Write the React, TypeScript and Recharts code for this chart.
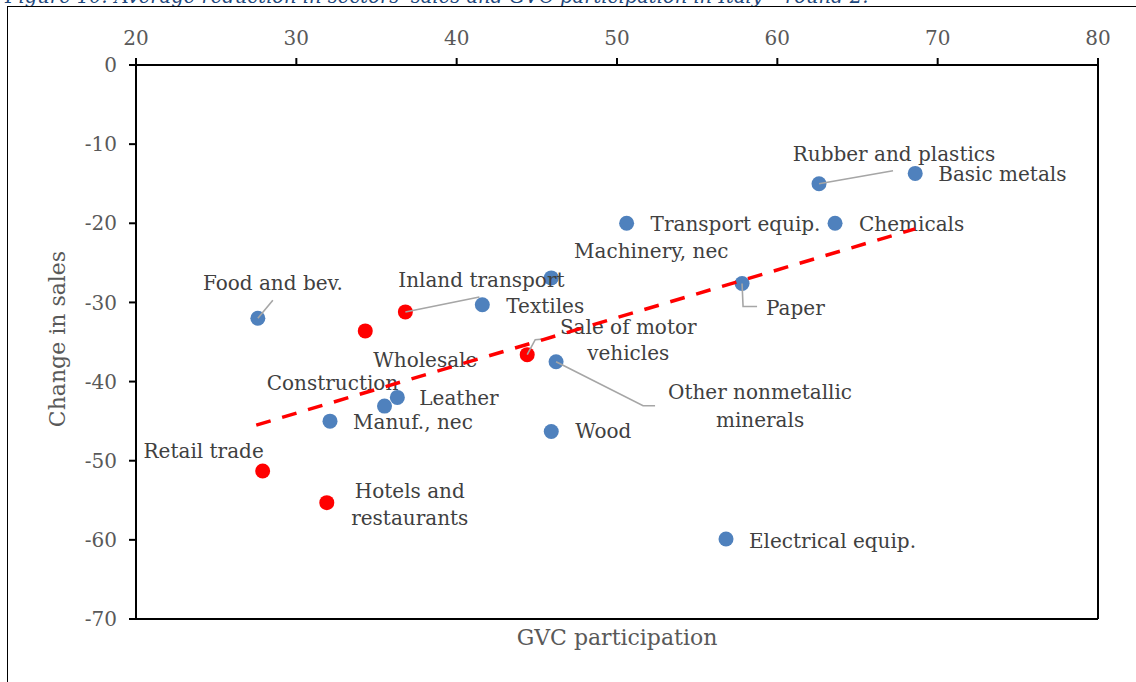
import React from 'react';
import { ScatterChart, Scatter, XAxis, YAxis, ReferenceLine } from 'recharts';

// ---------- Data ----------
const manufNames = [
  'Food and bev.', 'Textiles', 'Leather', 'Wood', 'Paper', 'Chemicals',
  'Rubber and plastics', 'Other nonmetallic minerals', 'Basic metals',
  'Machinery, nec', 'Electrical equip.', 'Transport equip.', 'Manuf., nec', 'Construction',
];
const manufGvc = [27.6, 41.6, 36.3, 45.9, 57.8, 63.6, 62.6, 46.2, 68.6, 45.9, 56.8, 50.6, 32.1, 35.5];
const manufSales = [-32.0, -30.3, -42.0, -46.3, -27.6, -20.0, -15.0, -37.5, -13.7, -26.9, -59.9, -20.0, -45.0, -43.1];

const servNames = ['Sale of motor vehicles', 'Wholesale', 'Retail trade', 'Hotels and restaurants', 'Inland transport'];
const servGvc = [44.4, 34.3, 27.9, 31.9, 36.8];
const servSales = [-36.6, -33.6, -51.3, -55.3, -31.2];

const trendGvc = [27.5, 68.6];
const trendSales = [-45.5, -20.7];

const xTicks = [20, 30, 40, 50, 60, 70, 80];
const yTicks = [0, -10, -20, -30, -40, -50, -60, -70];

const titleText = "Figure 10: Average reduction in sectors' sales and GVC participation in Italy \u2013 round 2.";
const xLabel = 'GVC participation';
const yLabel = 'Change in sales';

// ---------- Label layout (pixel offsets relative to each point) ----------
type Lay = { lines: string[]; anchor: 'start' | 'middle'; dx: number; dy: number; lh?: number; leader?: number[][] };
const labelLayout: Record<string, Lay> = {
  'Food and bev.': { lines: ['Food and bev.'], anchor: 'middle', dx: 15, dy: -35, leader: [[0, 0], [15, -18]] },
  'Wholesale': { lines: ['Wholesale'], anchor: 'middle', dx: 60, dy: 29 },
  'Inland transport': { lines: ['Inland transport'], anchor: 'middle', dx: 76, dy: -32, leader: [[0, 0], [74, -15]] },
  'Textiles': { lines: ['Textiles'], anchor: 'start', dx: 24, dy: 1 },
  'Machinery, nec': { lines: ['Machinery, nec'], anchor: 'middle', dx: 100, dy: -27 },
  'Transport equip.': { lines: ['Transport equip.'], anchor: 'start', dx: 24, dy: 1 },
  'Rubber and plastics': { lines: ['Rubber and plastics'], anchor: 'middle', dx: 75, dy: -30, leader: [[0, 0], [74, -13]] },
  'Basic metals': { lines: ['Basic metals'], anchor: 'start', dx: 23, dy: 1 },
  'Chemicals': { lines: ['Chemicals'], anchor: 'start', dx: 24, dy: 1 },
  'Paper': { lines: ['Paper'], anchor: 'start', dx: 24, dy: 25, leader: [[0, 0], [1, 23], [15, 23]] },
  'Sale of motor vehicles': { lines: ['Sale of motor', 'vehicles'], anchor: 'middle', dx: 101, dy: -28, lh: 26, leader: [[0, 0], [8, -15], [22, -16]] },
  'Other nonmetallic minerals': { lines: ['Other nonmetallic', 'minerals'], anchor: 'middle', dx: 204, dy: 30, lh: 28, leader: [[0, 0], [87, 44], [99, 44]] },
  'Construction': { lines: ['Construction'], anchor: 'middle', dx: -52, dy: -23 },
  'Leather': { lines: ['Leather'], anchor: 'start', dx: 22, dy: 1 },
  'Manuf., nec': { lines: ['Manuf., nec'], anchor: 'start', dx: 23, dy: 1 },
  'Wood': { lines: ['Wood'], anchor: 'start', dx: 24, dy: 0 },
  'Retail trade': { lines: ['Retail trade'], anchor: 'middle', dx: -59, dy: -20 },
  'Hotels and restaurants': { lines: ['Hotels and', 'restaurants'], anchor: 'middle', dx: 83, dy: -12, lh: 27 },
  'Electrical equip.': { lines: ['Electrical equip.'], anchor: 'start', dx: 23, dy: 2 },
};

const FONT = '"DejaVu Serif", Georgia, serif';
const BLUE = '#4F81BD';
const RED = '#FF0000';

const manufData = manufNames.map((n, i) => ({ name: n, x: manufGvc[i], y: manufSales[i] }));
const servData = servNames.map((n, i) => ({ name: n, x: servGvc[i], y: servSales[i] }));
const allData = [...manufData, ...servData];
const trendData = trendGvc.map((x, i) => ({ x, y: trendSales[i] }));

const Dot = (color: string) => (props: any) => {
  const { cx, cy } = props;
  if (cx == null || cy == null) return <g />;
  return <circle cx={cx} cy={cy} r={7.5} fill={color} />;
};

const LabelShape = (props: any) => {
  const { cx, cy, payload } = props;
  const lay = payload && labelLayout[payload.name];
  if (!lay || cx == null) return <g />;
  const lh = lay.lh ?? 27;
  return (
    <g>
      {lay.leader && (
        <polyline
          points={lay.leader.map((p) => `${cx + p[0]},${cy + p[1]}`).join(' ')}
          fill="none"
          stroke="#A6A6A6"
          strokeWidth={1.6}
        />
      )}
      {lay.lines.map((ln, i) => (
        <text
          key={i}
          x={cx + lay.dx}
          y={cy + lay.dy + i * lh}
          textAnchor={lay.anchor}
          dominantBaseline="central"
          fontFamily={FONT}
          fontSize={20}
          fill="#404040"
        >
          {ln}
        </text>
      ))}
    </g>
  );
};

export default function App() {
  return (
    <div style={{ position: 'absolute', left: 0, top: 0, width: 1136, height: 682, overflow: 'hidden', background: '#fff' }}>
      <div
        style={{
          position: 'absolute', left: 5, top: -15, whiteSpace: 'nowrap',
          fontFamily: FONT, fontStyle: 'italic', fontSize: 19.5, color: '#1F497D',
        }}
      >
        {titleText}
      </div>
      <div
        style={{
          position: 'absolute', left: 7, top: 6, width: 1200, height: 700,
          borderLeft: '1.5px solid #000', borderTop: '1.5px solid #000',
        }}
      />
      <div style={{ position: 'absolute', left: 0, top: 0 }}>
        <ScatterChart width={1136} height={682} margin={{ top: 25, right: 38, bottom: 63, left: 76 }}>
          <XAxis
            type="number"
            dataKey="x"
            orientation="top"
            domain={[20, 80]}
            ticks={xTicks}
            allowDataOverflow
            height={40}
            axisLine={{ stroke: '#000', strokeWidth: 2 }}
            tickLine={{ stroke: '#000', strokeWidth: 2 }}
            tickSize={7}
            tickMargin={13}
            tick={{ fill: '#595959', fontSize: 20, fontFamily: FONT }}
          />
          <YAxis
            type="number"
            dataKey="y"
            domain={[-70, 0]}
            ticks={yTicks}
            allowDataOverflow
            width={60}
            axisLine={{ stroke: '#000', strokeWidth: 2 }}
            tickLine={{ stroke: '#000', strokeWidth: 2 }}
            tickSize={7}
            tickMargin={12}
            tick={{ fill: '#595959', fontSize: 20, fontFamily: FONT }}
          />
          <ReferenceLine y={-70} stroke="#000" strokeWidth={2} />
          <ReferenceLine x={80} stroke="#000" strokeWidth={2} />
          <Scatter data={manufData} fill={BLUE} shape={Dot(BLUE)} isAnimationActive={false} />
          <Scatter data={servData} fill={RED} shape={Dot(RED)} isAnimationActive={false} />
          <Scatter data={allData} fill="none" shape={LabelShape} isAnimationActive={false} />
          <Scatter
            data={trendData}
            fill="none"
            line={{ stroke: RED, strokeWidth: 3.5, strokeDasharray: '15 12' }}
            shape={() => <g />}
            isAnimationActive={false}
          />
        </ScatterChart>
      </div>
      <div
        style={{
          position: 'absolute', left: 617, top: 637, transform: 'translate(-50%, -50%)',
          fontFamily: FONT, fontSize: 22, color: '#595959', whiteSpace: 'nowrap',
        }}
      >
        {xLabel}
      </div>
      <div
        style={{
          position: 'absolute', left: 57, top: 339, transform: 'translate(-50%, -50%) rotate(-90deg)',
          fontFamily: FONT, fontSize: 22, color: '#595959', whiteSpace: 'nowrap',
        }}
      >
        {yLabel}
      </div>
    </div>
  );
}
